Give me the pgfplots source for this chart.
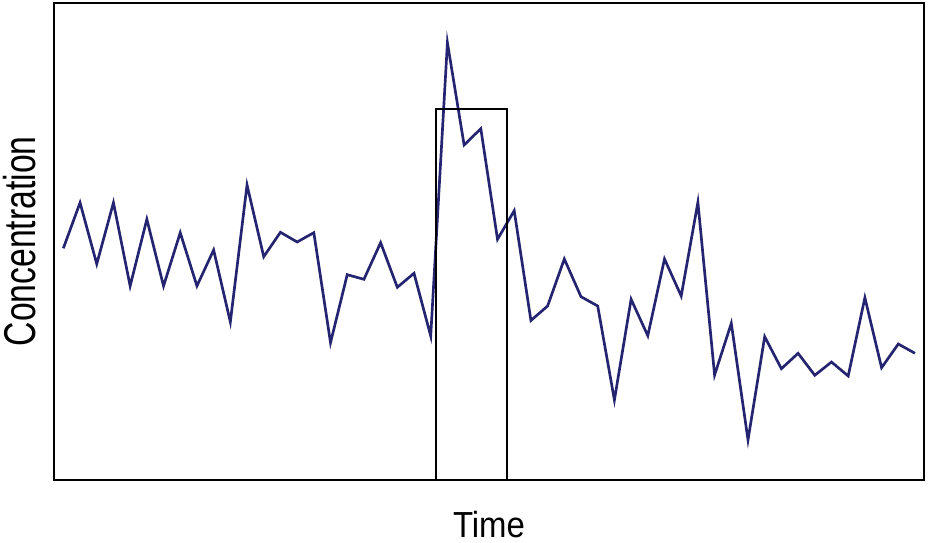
\documentclass[border=0pt]{standalone}
\usepackage{pgfplots}
\pgfplotsset{compat=1.18}
\usepackage{graphicx}
\usepackage{fontspec}
\setmainfont{Liberation Sans}
\definecolor{navyline}{RGB}{36,36,112}

\begin{document}
\begin{tikzpicture}
\begin{axis}[
    scale only axis,
    width=652.5pt,
    height=358pt,
    xmin=-0.56, xmax=51.54,
    ymin=-1, ymax=476.3,
    xtick=\empty, ytick=\empty,
    axis line style={line width=1.4pt, black},
    xlabel={\fontsize{24.7}{28}\selectfont\scalebox{1}[1.1]{Time}},
    ylabel={\fontsize{25.3}{28}\selectfont\scalebox{1}[1.32]{Concentration}},
    xlabel style={at={(axis description cs:0.5,0)}, anchor=north, yshift=-23pt, inner sep=0pt},
    ylabel style={at={(axis description cs:-0.0207,0.5)}, anchor=south, rotate=0, inner sep=0pt},
]
% series (pixel heights above the axis floor)
\addplot[navyline, line width=2pt, line join=miter] coordinates {
    (0,230.7) (1,276.3) (2,215) (3,276.3) (4,193) (5,259.7) (6,193) (7,246.3)
    (8,193) (9,229) (10,157) (11,294) (12,222.3) (13,246.7) (14,237) (15,246.3)
    (16,136.3) (17,204.3) (18,199.7) (19,236.3) (20,191.7) (21,205.7) (22,143)
    (23,436.3) (24,334) (25,350.3) (26,239.7) (27,268.3) (28,158.5) (29,173)
    (30,220) (31,182.3) (32,173) (33,79) (34,179.7) (35,143.3) (36,220) (37,183)
    (38,276.7) (39,104) (40,155.7) (41,39) (42,142.3) (43,110.3) (44,125.7)
    (45,103.7) (46,117) (47,103) (48,181.3) (49,111.3) (50,135) (51,125.7)
};
% highlighted window
\addplot[black, line width=1.4pt] coordinates {
    (22.32,-1) (22.32,370) (26.55,370) (26.55,-1)
};
\coordinate (sw) at (rel axis cs:0,0);
\coordinate (ne) at (rel axis cs:1,1);
\end{axis}
\path ([shift={(-40.5pt,-46.5pt)}]sw) rectangle ([shift={(3.75pt,2pt)}]ne);
\end{tikzpicture}
\end{document}
